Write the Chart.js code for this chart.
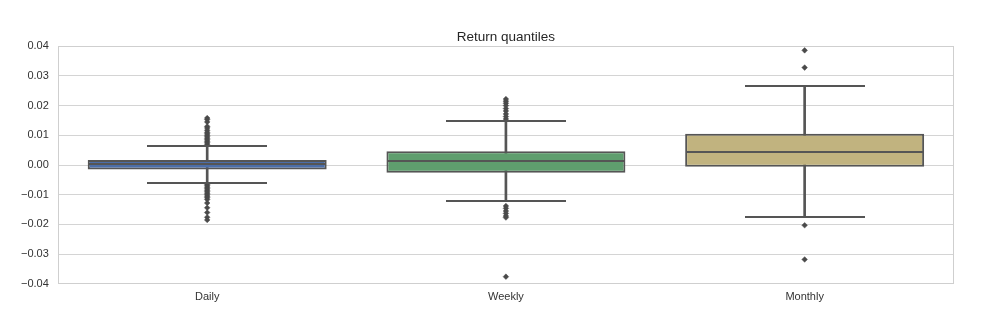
<!DOCTYPE html>
<html>
<head>
<meta charset="utf-8">
<script src="https://cdn.jsdelivr.net/npm/chart.js@4/dist/chart.umd.min.js"></script>
<style>
  html, body { margin: 0; padding: 0; background: #fff; }
  #wrap { width: 991px; height: 317px; }
</style>
</head>
<body>
<div id="wrap"><canvas id="chart"></canvas></div>
<script>
const categories = ['Daily', 'Weekly', 'Monthly'];
const q1 = [-0.0015, -0.0026, -0.0006];
const q3 = [0.0017, 0.0046, 0.0105];
const medians = [0.0002, 0.0012, 0.0043];
const whiskerLow = [-0.006, -0.0122, -0.0176];
const whiskerHigh = [0.0064, 0.0147, 0.0267];
const outliersDaily = [0.0158, 0.0153, 0.0145, 0.013, 0.0125, 0.0117, 0.011, 0.0105, 0.01, 0.0095, 0.009, 0.0085, 0.008, 0.0075, 0.007,
  -0.0065, -0.007, -0.0075, -0.008, -0.0085, -0.009, -0.0095, -0.01, -0.0105, -0.011, -0.0116, -0.0128, -0.0144, -0.016, -0.0176, -0.0185];
const outliersWeekly = [0.0222, 0.0215, 0.0208, 0.02, 0.019, 0.0182, 0.0172, 0.0163, 0.0155,
  -0.0138, -0.0146, -0.0155, -0.0163, -0.0172, -0.0177, -0.0376];
const outliersMonthly = [0.0386, 0.0328, -0.0203, -0.0318];
const yTicks = [-0.04, -0.03, -0.02, -0.01, 0, 0.01, 0.02, 0.03, 0.04];

const boxColors = ['#4c6ea8', '#5f9e6e', '#c1b37f'];
const lineColor = '#555555';
const fontFamily = 'Liberation Sans, Arial, sans-serif';

const outlierPoints = [
  ...outliersDaily.map(y => ({ x: 'Daily', y })),
  ...outliersWeekly.map(y => ({ x: 'Weekly', y })),
  ...outliersMonthly.map(y => ({ x: 'Monthly', y })),
];

// horizontal strokes used as point styles (median lines and whisker caps)
function makeStroke(width) {
  const c = document.createElement('canvas');
  c.width = width;
  c.height = 2;
  const g = c.getContext('2d');
  g.fillStyle = lineColor;
  g.fillRect(0, 0, width, 2);
  return c;
}
const medianStroke = makeStroke(236);
const capStroke = makeStroke(120);

const frame = {
  id: 'frame',
  afterDraw(chart) {
    const { ctx, chartArea: a } = chart;
    ctx.save();
    ctx.strokeStyle = '#cfcfcf';
    ctx.lineWidth = 1;
    ctx.strokeRect(Math.round(a.left) + 0.5, Math.round(a.top) + 0.5, Math.round(a.right - a.left) - 1, Math.round(a.bottom - a.top) - 1);
    ctx.restore();
  },
};

new Chart(document.getElementById('chart'), {
  data: {
    labels: categories,
    datasets: [
      {
        type: 'line',
        label: 'Medians',
        data: medians,
        showLine: false,
        pointStyle: medianStroke,
        pointRadius: 1,
        pointHoverRadius: 1,
        order: 0,
      },
      {
        type: 'line',
        label: 'Upper caps',
        data: whiskerHigh,
        showLine: false,
        pointStyle: capStroke,
        pointRadius: 1,
        pointHoverRadius: 1,
        order: 0,
      },
      {
        type: 'line',
        label: 'Lower caps',
        data: whiskerLow,
        showLine: false,
        pointStyle: capStroke,
        pointRadius: 1,
        pointHoverRadius: 1,
        order: 0,
      },
      {
        type: 'line',
        label: 'Outliers',
        data: outlierPoints,
        showLine: false,
        pointStyle: 'rectRot',
        pointRadius: 2.8,
        pointBackgroundColor: '#4a4a4a',
        pointBorderColor: '#4a4a4a',
        pointBorderWidth: 0.5,
        order: 0,
      },
      {
        type: 'bar',
        label: 'Boxes',
        data: categories.map((c, i) => [q1[i], q3[i]]),
        backgroundColor: boxColors,
        borderColor: lineColor,
        borderWidth: 2,
        borderSkipped: false,
        barPercentage: 0.8,
        categoryPercentage: 1,
        grouped: false,
        order: 1,
      },
      {
        type: 'bar',
        label: 'Whiskers',
        data: categories.map((c, i) => [whiskerLow[i], whiskerHigh[i]]),
        backgroundColor: lineColor,
        borderWidth: 0,
        barThickness: 2,
        grouped: false,
        order: 2,
      },
    ],
  },
  options: {
    responsive: true,
    maintainAspectRatio: false,
    animation: false,
    layout: { padding: { left: 12, right: 37, top: 29, bottom: 6 } },
    plugins: {
      legend: { display: false },
      tooltip: { enabled: false },
      title: {
        display: true,
        text: 'Return quantiles',
        fullSize: false,
        color: '#262626',
        font: { family: fontFamily, size: 13.5, weight: 'normal' },
        padding: { top: 0, bottom: 1 },
      },
    },
    scales: {
      x: {
        type: 'category',
        grid: { display: false, drawTicks: false },
        border: { display: false },
        ticks: {
          color: '#333',
          padding: 7,
          font: { family: fontFamily, size: 11 },
        },
      },
      y: {
        min: -0.04,
        max: 0.04,
        afterBuildTicks: axis => { axis.ticks = yTicks.map(value => ({ value })); },
        grid: { color: '#d4d4d4', lineWidth: 1, drawTicks: false },
        border: { display: false },
        ticks: {
          color: '#333',
          padding: 9,
          autoSkip: false,
          font: { family: fontFamily, size: 11 },
          callback: v => v.toFixed(2).replace('-', '\u2212'),
        },
      },
    },
  },
  plugins: [frame],
});
</script>
</body>
</html>
